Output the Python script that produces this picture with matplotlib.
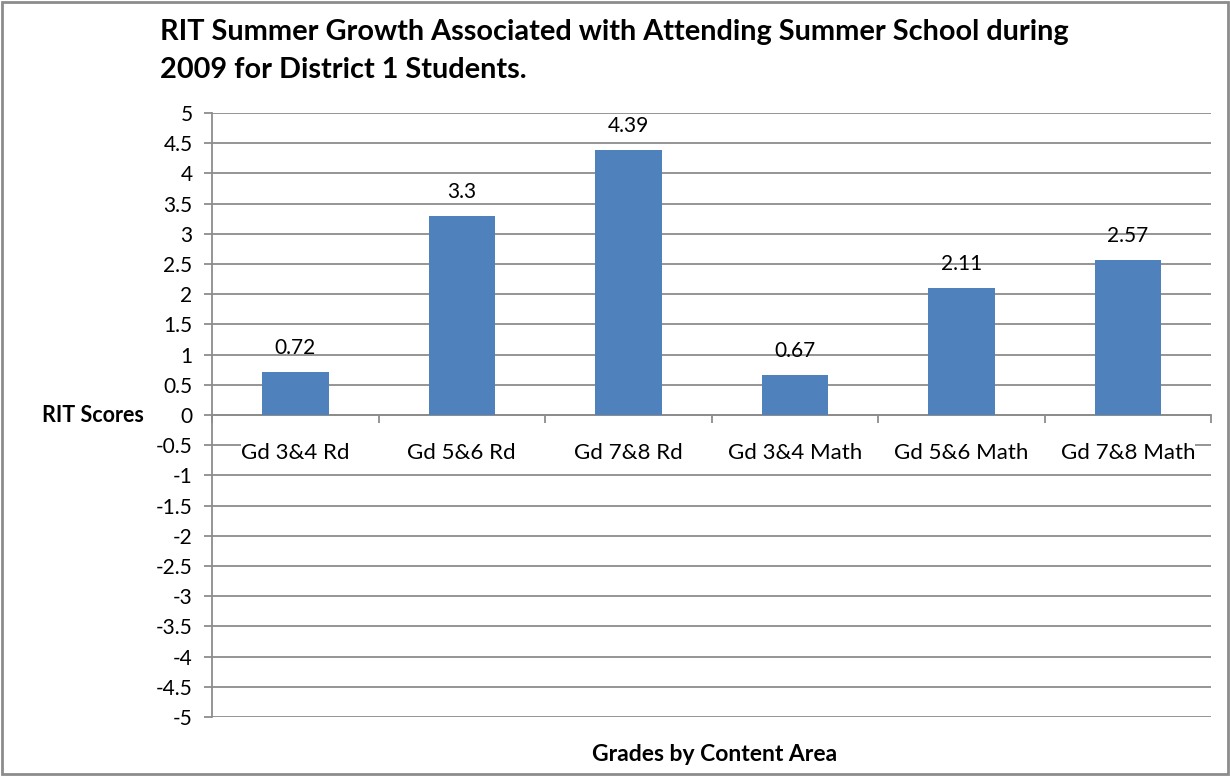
import matplotlib
matplotlib.use("Agg")
from matplotlib import pyplot
from matplotlib import transforms
from matplotlib.patches import Rectangle
from matplotlib.ticker import MultipleLocator, FixedLocator, NullFormatter

categories = ["Gd 3&4 Rd", "Gd 5&6 Rd", "Gd 7&8 Rd",
              "Gd 3&4 Math", "Gd 5&6 Math", "Gd 7&8 Math"]
growth = [0.72, 3.3, 4.39, 0.67, 2.11, 2.57]

BAR_BLUE = "#4F81BD"
GRID_GREY = "#8C8C8C"

pyplot.rcParams["font.family"] = ["Lato", "DejaVu Sans"]

fig = pyplot.figure(figsize=(12.3, 7.76), dpi=100)
ax = fig.add_axes([0.1724, 0.076, 0.8122, 0.7784])

x = list(range(len(categories)))
ax.bar(x, growth, width=0.4, color=BAR_BLUE, zorder=3)

# value labels above each bar
for xi, v in zip(x, growth):
    ax.annotate(f"{v:g}", xy=(xi, v), xytext=(0, 10), textcoords="offset points",
                ha="center", va="bottom", fontsize=15, zorder=4)

ax.set_xlim(-0.5, len(categories) - 0.5)
ax.set_ylim(-5, 5)
ax.yaxis.set_major_locator(MultipleLocator(0.5))
ax.set_yticklabels([f"{t:g}" for t in ax.get_yticks()])
ax.grid(axis="y", color=GRID_GREY, linewidth=1.3, zorder=0)
ax.set_axisbelow(True)

for side in ("top", "right"):
    ax.spines[side].set_visible(False)
ax.spines["bottom"].set_position(("data", 0))
for side in ("bottom", "left"):
    ax.spines[side].set_color(GRID_GREY)
    ax.spines[side].set_linewidth(1.3)

# small marks between categories on the zero line
ax.set_xticks([])
ax.xaxis.set_minor_locator(FixedLocator([i - 0.5 for i in range(len(categories) + 1)]))
ax.xaxis.set_minor_formatter(NullFormatter())
ax.tick_params(axis="x", which="minor", length=6, width=1.3, color=GRID_GREY)
ax.tick_params(axis="y", length=6, width=1.3, color=GRID_GREY, labelsize=15, pad=8)

# category names just under the zero line
below_zero = transforms.offset_copy(ax.transData, fig=fig, y=-27, units="points")
cat_labels = [ax.text(xi, 0, name, transform=below_zero, ha="center", va="center",
                      fontsize=16, zorder=5)
              for xi, name in zip(x, categories)]

# white band behind the category names so the gridline doesn't run through them
fig.canvas.draw()
renderer = fig.canvas.get_renderer()
boxes = [t.get_window_extent(renderer) for t in cat_labels]
inv = ax.transData.inverted()
(x0, y0) = inv.transform((min(b.x0 for b in boxes), min(b.y0 for b in boxes)))
(x1, y1) = inv.transform((max(b.x1 for b in boxes), max(b.y1 for b in boxes)))
ax.add_patch(Rectangle((x0, y0), x1 - x0, y1 - y0, facecolor="white",
                       edgecolor="none", zorder=1, clip_on=False))

fig.text(0.13, 0.976, "RIT Summer Growth Associated with Attending Summer School during\n"
         "2009 for District 1 Students.", ha="left", va="top",
         fontsize=20.8, fontweight="bold", linespacing=1.6)
fig.text(0.034, 0.465, "RIT Scores", ha="left", va="center", fontsize=15.5, fontweight="bold")
fig.text(0.581, 0.028, "Grades by Content Area", ha="center", va="center",
         fontsize=16.5, fontweight="bold")

fig.add_artist(Rectangle((0.002, 0.003), 0.996, 0.994, transform=fig.transFigure,
                         fill=False, edgecolor="#8C8C8C", linewidth=2))

fig.savefig("out.png", dpi=100)
